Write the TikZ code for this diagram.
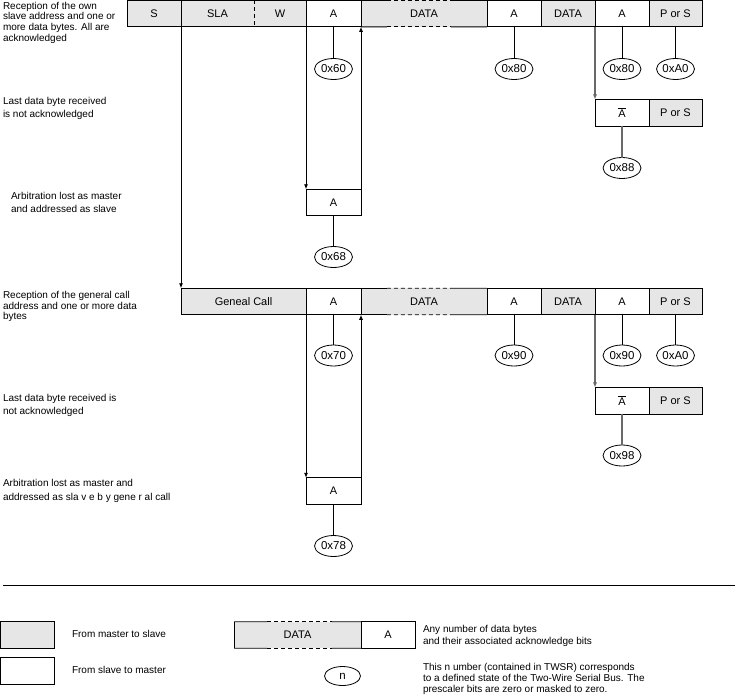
\documentclass[tikz,border=0pt]{standalone}
\usepackage{fontspec}
\setmainfont{Liberation Sans}
\usetikzlibrary{shapes.geometric,arrows.meta,calc}
\definecolor{cellgray}{RGB}{230,230,230}
\definecolor{linegray}{RGB}{105,105,105}
\newcommand{\nackA}{\ensuremath{\overline{\mbox{A}}}}
\newcommand{\dataedges}[3]{%
  \foreach \s/\e in {north west/north east,south west/south east}{
    \draw[ln] (#1.\s) -- ($(#1.\s)!#2!(#1.\e)$);
    \draw[ln,dash pattern=on 4pt off 3pt] ($(#1.\s)!#2!(#1.\e)$) -- ($(#1.\s)!#3!(#1.\e)$);
    \draw[ln] ($(#1.\s)!#3!(#1.\e)$) -- (#1.\e);
  }}
\begin{document}
\begin{tikzpicture}[x=1pt,y=-1pt,
  every node/.style={inner sep=0pt,outer sep=0pt},
  ln/.style={line width=0.8pt},
  cell/.style={draw,line width=0.8pt,minimum height=26.5pt,font=\fontsize{11}{13}\selectfont},
  cg/.style={cell,fill=cellgray},
  cw/.style={cell,fill=white},
  cgn/.style={cg,draw=none},
  st/.style={ellipse,draw,line width=0.8pt,minimum width=38pt,minimum height=21pt,font=\fontsize{11.5}{13}\selectfont},
  note/.style={anchor=north west,align=left},
  txt/.style={anchor=west,font=\fontsize{10}{12}\selectfont},
  arr/.style={ln,-{Latex[length=5pt,width=4pt]}},
  garr/.style={ln,draw=linegray,line width=1.3pt,-{Latex[length=5pt,width=4pt,fill=black]}},
  gln/.style={draw=linegray,line width=1.3pt},
]
\useasboundingbox (0,0) rectangle (738,699);

% ---------- Row 1 ----------
\node[cgn,minimum width=73pt] (sla1) at (217.5,13.6) {SLA};
\node[cgn,minimum width=52pt] (w1) at (280,13.6) {W};
\node[cgn,minimum width=126pt] (d1) at (424,13.6) {DATA};
\node[cg,minimum width=54pt] (s1) at (154,13.6) {S};
\node[cw,minimum width=55pt] (a1) at (333.5,13.6) {A};
\node[cw,minimum width=54pt] (a2) at (514,13.6) {A};
\node[cg,minimum width=54pt] (d2) at (568,13.6) {DATA};
\node[cw,minimum width=54pt] (a3) at (622,13.6) {A};
\node[cg,minimum width=53pt] (p1) at (675.5,13.6) {P or S};
\draw[ln] (sla1.north west) -- (w1.north east) (sla1.south west) -- (w1.south east);
\draw[ln,dash pattern=on 4pt off 3pt] (sla1.north east) -- (sla1.south east);
\dataedges{d1}{0.206}{0.714}

\node[st] (e60) at (333.5,69) {0x60};
\node[st] (e80a) at (514,69) {0x80};
\node[st] (e80b) at (622,69) {0x80};
\node[st] (ea0a) at (675.5,69) {0xA0};
\draw[ln] (a1.south) -- (e60.north);
\draw[ln] (a2.south) -- (e80a.north);
\draw[ln] (a3.south) -- (e80b.north);
\draw[ln] (p1.south) -- (ea0a.north);

% branch: not acknowledged
\node[cw,minimum width=54pt] (na1) at (622,112.7) {\nackA};
\node[cg,minimum width=53pt] (p2) at (675.5,112.7) {P or S};
\node[st] (e88) at (622,168) {0x88};
\draw[garr] (a3.south west) -- (na1.north west);
\draw[gln] (na1.south) -- (e88.north);

% branch: arbitration lost
\node[cw,minimum width=55pt] (a68) at (333.5,202.5) {A};
\node[st] (e68) at (333.5,257) {0x68};
\draw[arr] (a1.south west) -- (a68.north west);
\draw[arr] (a68.north east) -- (a1.south east);
\draw[ln] (a68.south) -- (e68.north);

% ---------- Row 2 ----------
\node[cgn,minimum width=126pt] (d3) at (424,301.5) {DATA};
\node[cg,minimum width=125pt] (gc) at (243.5,301.5) {Geneal Call};
\node[cw,minimum width=55pt] (a4) at (333.5,301.5) {A};
\node[cw,minimum width=54pt] (a5) at (514,301.5) {A};
\node[cg,minimum width=54pt] (d4) at (568,301.5) {DATA};
\node[cw,minimum width=54pt] (a6) at (622,301.5) {A};
\node[cg,minimum width=53pt] (p3) at (675.5,301.5) {P or S};
\dataedges{d3}{0.206}{0.714}
\draw[arr] (s1.south east) -- (gc.north west);

\node[st] (e70) at (333.5,355.5) {0x70};
\node[st] (e90a) at (514,355.5) {0x90};
\node[st] (e90b) at (622,355.5) {0x90};
\node[st] (ea0b) at (675.5,355.5) {0xA0};
\draw[ln] (a4.south) -- (e70.north);
\draw[ln] (a5.south) -- (e90a.north);
\draw[ln] (a6.south) -- (e90b.north);
\draw[ln] (p3.south) -- (ea0b.north);

\node[cw,minimum width=54pt] (na2) at (622,400.7) {\nackA};
\node[cg,minimum width=53pt] (p4) at (675.5,400.7) {P or S};
\node[st] (e98) at (622,455.5) {0x98};
\draw[garr] (a6.south west) -- (na2.north west);
\draw[gln] (na2.south) -- (e98.north);

\node[cw,minimum width=55pt] (a78) at (333.5,491) {A};
\node[st] (e78) at (333.5,546) {0x78};
\draw[arr] (a4.south west) -- (a78.north west);
\draw[arr] (a78.north east) -- (a4.south east);
\draw[ln] (a78.south) -- (e78.north);

% ---------- Notes ----------
\node[note,font=\fontsize{10}{10.7}\selectfont] (n1) at (3,2)
  {Reception of the own\\slave address and one or\\more data bytes. All are\\acknowledged};
\node[note,font=\fontsize{10}{13}\selectfont] (n2) at (3,97.5)
  {Last data byte received\\is not acknowledged};
\node[note,font=\fontsize{10}{12.5}\selectfont] (n3) at (11,192.5)
  {Arbitration lost as master\\and addressed as slave};
\node[note,font=\fontsize{10}{10.8}\selectfont] (n4) at (3,291)
  {Reception of the general call\\address and one or more data\\bytes};
\node[note,font=\fontsize{10}{13.5}\selectfont] (n5) at (3,394)
  {Last data byte received is\\not acknowledged};
\node[note,font=\fontsize{10}{14}\selectfont] (n6) at (3,479)
  {Arbitration lost as master and\\addressed as sla v e b y gene r al call};

% ---------- Separator ----------
\coordinate (sepl) at (3,585);
\coordinate (sepr) at (735,585);
\draw[ln] (sepl) -- (sepr);

% ---------- Legend ----------
\node[cg,minimum width=53.5pt] (lg) at (27.25,635) {};
\node[cw,minimum width=53.5pt] (lw) at (27.25,670.7) {};
\node[txt] (tg) at (72,633.5) {From master to slave};
\node[txt] (tw) at (72,669.5) {From slave to master};

\node[cgn,minimum width=127pt] (ld) at (297.5,635) {DATA};
\node[cw,minimum width=54pt] (la) at (388,635) {A};
\dataedges{ld}{0.26}{0.77}
\draw[ln] (ld.north west) -- (ld.south west);
\node[note,font=\fontsize{10}{12}\selectfont] (tany) at (423,625.3)
  {Any number of data bytes\\and their associated acknowledge bits};

\node[st,minimum width=36pt,minimum height=19pt] (ln) at (342.5,676) {n};
\node[note,font=\fontsize{10}{11.2}\selectfont] (tthis) at (423,663.3)
  {This n umber (contained in TWSR) corresponds\\to a defined state of the Two-Wire Serial Bus. The\\prescaler bits are zero or masked to zero.};
\end{tikzpicture}
\end{document}
